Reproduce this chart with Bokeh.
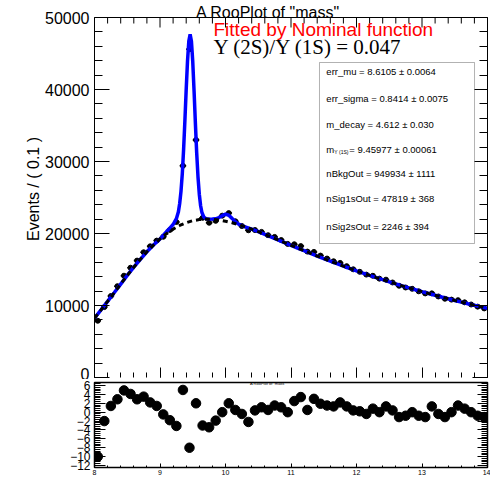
from bokeh.embed import file_html
from bokeh.layouts import column
from bokeh.models import BoxAnnotation, Label, LinearAxis, Range1d, SingleIntervalTicker, Span
from bokeh.plotting import figure
from bokeh.resources import INLINE

SANS = "Liberation Sans"
SERIF = "Liberation Serif"

# ---- binned data: 60 bins of width 0.1 between 8 and 14 ----
bin_centers = [
    8.05, 8.15, 8.25, 8.35, 8.45, 8.55, 8.65, 8.75, 8.85, 8.95,
    9.05, 9.15, 9.25, 9.35, 9.45, 9.55, 9.65, 9.75, 9.85, 9.95,
    10.05, 10.15, 10.25, 10.35, 10.45, 10.55, 10.65, 10.75, 10.85, 10.95,
    11.05, 11.15, 11.25, 11.35, 11.45, 11.55, 11.65, 11.75, 11.85, 11.95,
    12.05, 12.15, 12.25, 12.35, 12.45, 12.55, 12.65, 12.75, 12.85, 12.95,
    13.05, 13.15, 13.25, 13.35, 13.45, 13.55, 13.65, 13.75, 13.85, 13.95,
]
events = [
    7880, 9777, 11313, 12685, 14139, 15246, 16235, 17396, 18221, 19012,
    19540, 20491, 21600, 29400, 45600, 33000, 22171, 21491, 21758, 22480,
    22830, 21700, 21038, 20449, 20482, 20224, 19763, 19524, 19091, 18555,
    18507, 18249, 17489, 17444, 16932, 16521, 16144, 15914, 15465, 15024,
    14679, 14292, 14128, 13732, 13588, 13196, 12742, 12502, 12321, 11969,
    11679, 11685, 11254, 10939, 10818, 10740, 10440, 10137, 9840, 9598,
]
pulls = [
    -10.0, -2.0, 1.4, 2.9, 4.9, 4.1, 2.9, 3.5, 2.2, 1.4,
    -0.5, -1.8, -3.1, 5.0, -8.0, 2.0, -3.0, -3.4, -1.9, 0.0,
    2.0, 0.5, -0.4, -2.2, 0.4, 1.1, 0.5, 1.5, 1.1, 0.0,
    2.5, 3.4, 0.5, 3.0, 1.9, 1.5, 1.3, 2.2, 1.3, 0.4,
    0.2, -0.4, 0.8, 0.0, 1.3, 0.4, -1.1, -0.8, 0.0, -0.8,
    -1.1, 1.3, -0.4, -1.1, 0.0, 1.5, 0.8, 0.0, -0.8, -1.1,
]

# ---- total fit curve (background + Y(1S) + Y(2S)) ----
fit_mass = [
    8.0, 8.1, 8.2, 8.3, 8.4, 8.5, 8.6, 8.7, 8.8, 8.9, 9.0, 9.1, 9.15, 9.2, 9.25,
    9.28, 9.30, 9.32, 9.34, 9.36, 9.38, 9.40, 9.42, 9.44, 9.46, 9.48, 9.50,
    9.52, 9.54, 9.56, 9.58, 9.60, 9.62, 9.64, 9.67, 9.70, 9.75, 9.80, 9.85,
    9.90, 9.95, 10.0, 10.05, 10.1, 10.15, 10.2, 10.25, 10.3, 10.4, 10.5, 10.6,
    10.7, 10.8, 10.9, 11.0, 11.1, 11.2, 11.3, 11.4, 11.5, 11.6, 11.7, 11.8,
    11.9, 12.0, 12.1, 12.2, 12.3, 12.4, 12.5, 12.6, 12.7, 12.8, 12.9, 13.0,
    13.1, 13.2, 13.3, 13.4, 13.5, 13.6, 13.7, 13.8, 13.9, 14.0,
]
fit_total = [
    8251, 9385, 10568, 11762, 12964, 14173, 15324, 16419, 17461, 18392, 19246,
    20270, 20750, 21250, 22060,
    22970, 24130, 25820, 28250, 31620, 35655, 40010, 43940, 46725, 47670,
    46685, 43858, 39820, 35370, 31240, 27880, 25453, 23856, 22913, 22270,
    22060, 21995, 22005, 22040, 22210, 22480, 22680, 22530, 22100, 21627,
    21307, 21096, 20933, 20599, 20250, 19885, 19498, 19129, 18747, 18362,
    17983, 17607, 17234, 16868, 16509, 16155, 15809, 15470, 15138, 14813,
    14496, 14185, 13881, 13583, 13292, 13007, 12728, 12455, 12188, 11926,
    11670, 11420, 11175, 10935, 10701, 10471, 10247, 10027, 9812, 9601,
]

# ---- background component ----
bkg_mass = [
    8.0, 8.1, 8.2, 8.3, 8.4, 8.5, 8.6, 8.7, 8.8, 8.9,
    9.0, 9.1, 9.2, 9.3, 9.4, 9.5, 9.6, 9.7, 9.8, 9.9,
    10.0, 10.1, 10.2, 10.3, 10.4, 10.5, 10.6, 10.7, 10.8, 10.9,
    11.0, 11.1, 11.2, 11.3, 11.4, 11.5, 11.6, 11.7, 11.8, 11.9,
    12.0, 12.1, 12.2, 12.3, 12.4, 12.5, 12.6, 12.7, 12.8, 12.9,
    13.0, 13.1, 13.2, 13.3, 13.4, 13.5, 13.6, 13.7, 13.8, 13.9, 14.0,
]
bkg_only = [
    8251, 9385, 10568, 11762, 12964, 14173, 15324, 16419, 17461, 18392,
    19246, 19972, 20604, 21120, 21500, 21778, 21933, 22000, 21982, 21884,
    21711, 21492, 21227, 20933, 20599, 20250, 19885, 19498, 19129, 18747,
    18362, 17983, 17607, 17234, 16868, 16509, 16155, 15809, 15470, 15138,
    14813, 14496, 14185, 13881, 13583, 13292, 13007, 12728, 12455, 12188,
    11926, 11670, 11420, 11175, 10935, 10701, 10471, 10247, 10027, 9812, 9601,
]

# ---- fit parameter box ----
param_lines = [
    "err_mu = 8.6105 \u00b1 0.0064",
    "err_sigma = 0.8414 \u00b1 0.0075",
    "m_decay = 4.612 \u00b1 0.030",
    None,  # m_{Y(1S)} row, drawn with a subscript
    "nBkgOut = 949934 \u00b1 1111",
    "nSig1sOut = 47819 \u00b1 368",
    "nSig2sOut = 2246 \u00b1 394",
]
param_rows_y = [42500, 38750, 35140, 31670, 28330, 24860, 20970]

# tick positions along the top edge of the upper frame
top_major = [8, 9, 10, 11, 12, 13, 14]
top_minor = [8.2, 8.4, 8.6, 8.8, 9.2, 9.4, 9.6, 9.8, 10.2, 10.4, 10.6, 10.8,
             11.2, 11.4, 11.6, 11.8, 12.2, 12.4, 12.6, 12.8, 13.2, 13.4, 13.6, 13.8]

Y_MAX = 50000
FRAME_PX = 377          # upper frame height in pixels (canvas top to y = 0)
TOP_GAP_PX = 17         # space kept above the y = 50000 line
Y_TOP = Y_MAX * FRAME_PX / (FRAME_PX - TOP_GAP_PX)
PX = Y_TOP / FRAME_PX   # data units per pixel in the upper frame


def inward_axis(ax, major, minor, label_size="0px", standoff=0):
    ax.major_tick_in = major
    ax.major_tick_out = 0
    ax.minor_tick_in = minor
    ax.minor_tick_out = 0
    ax.major_tick_line_color = "black"
    ax.minor_tick_line_color = "black"
    ax.axis_line_color = "black"
    ax.major_label_text_font = SANS
    ax.major_label_text_font_size = label_size
    ax.major_label_standoff = standoff
    ax.major_label_text_color = "black"


# ================= upper pad =================
p1 = figure(
    width=490, height=379,
    x_range=Range1d(8, 14), y_range=Range1d(0, Y_TOP),
    output_backend="svg", toolbar_location=None, title_location=None,
    min_border_left=94, min_border_right=3, min_border_top=0, min_border_bottom=2,
)
p1.grid.visible = False
p1.outline_line_color = None
p1.background_fill_color = "white"
p1.border_fill_color = "white"

ya = p1.yaxis[0]
ya.ticker = SingleIntervalTicker(interval=10000, num_minor_ticks=5)
ya.bounds = (0, Y_MAX)
inward_axis(ya, 15, 8, "16px", 5)
ya.axis_label = "Events / ( 0.1 )"
ya.axis_label_text_font = SANS
ya.axis_label_text_font_size = "16px"
ya.axis_label_text_font_style = "normal"
ya.axis_label_text_color = "black"
ya.axis_label_standoff = 0

xa = p1.xaxis[0]
xa.ticker = SingleIntervalTicker(interval=1, num_minor_ticks=5)
inward_axis(xa, 10, 5)
xa.axis_line_color = None

right_ax = LinearAxis(ticker=SingleIntervalTicker(interval=10000, num_minor_ticks=5),
                      bounds=(0, Y_MAX))
inward_axis(right_ax, 15, 8)
p1.add_layout(right_ax, "right")

# top edge of the frame with its inward ticks
p1.add_layout(Span(location=Y_MAX, dimension="width", line_color="black", line_width=1))
p1.segment(x0=top_major, y0=[Y_MAX] * len(top_major), x1=top_major,
           y1=[Y_MAX - 10 * PX] * len(top_major), line_color="black", line_width=1)
p1.segment(x0=top_minor, y0=[Y_MAX] * len(top_minor), x1=top_minor,
           y1=[Y_MAX - 6 * PX] * len(top_minor), line_color="black", line_width=1)

# data points with bin-width error bars
p1.segment(x0=[m - 0.05 for m in bin_centers], y0=events,
           x1=[m + 0.05 for m in bin_centers], y1=events,
           line_color="black", line_width=1.5)
p1.scatter(bin_centers, events, size=5, color="black")

# fit curves
p1.line(fit_mass, fit_total, line_color="blue", line_width=3.5)
p1.line(bkg_mass, bkg_only, line_color="black", line_width=3, line_dash="5 4")

p1.add_layout(Label(x=10.649, y=Y_TOP - 12 * PX, text='A RooPlot of "mass"', text_align="center",
                    text_baseline="middle", text_font=SANS, text_font_size="16px",
                    text_color="black"))
p1.add_layout(Label(x=9.817, y=48400, text="Fitted by Nominal function", text_align="left",
                    text_baseline="middle", text_font=SANS, text_font_size="19px",
                    text_color="red"))
p1.add_layout(Label(x=9.817, y=45970, text="\u03a5 (2S)/\u03a5 (1S) = 0.047", text_align="left",
                    text_baseline="middle", text_font=SERIF, text_font_size="21px",
                    text_color="black"))

p1.add_layout(BoxAnnotation(left=11.435, right=13.802, bottom=18611, top=43750,
                            fill_color="white", fill_alpha=1.0,
                            line_color="black", line_width=1))

for txt, yv in zip(param_lines, param_rows_y):
    if txt is not None:
        p1.add_layout(Label(x=11.54, y=yv, text=txt, text_baseline="middle",
                            text_font=SANS, text_font_size="9.5px", text_color="black"))
    else:
        p1.add_layout(Label(x=11.54, y=yv, text="m", text_baseline="middle",
                            text_font=SANS, text_font_size="9.5px", text_color="black"))
        p1.add_layout(Label(x=11.54, y=yv, x_offset=8, y_offset=-3, text="\u03a5 (1S)",
                            text_baseline="middle", text_font=SANS, text_font_size="5px",
                            text_color="black"))
        p1.add_layout(Label(x=11.54, y=yv, x_offset=23, text="= 9.45977 \u00b1 0.00061",
                            text_baseline="middle", text_font=SANS, text_font_size="9.5px",
                            text_color="black"))

# ================= lower pad (pulls) =================
p2 = figure(
    width=490, height=103,
    x_range=Range1d(8, 14), y_range=Range1d(-12.45, 6.68),
    output_backend="svg", toolbar_location=None, title_location=None,
    min_border_left=94, min_border_right=3, min_border_top=3, min_border_bottom=15,
)
p2.grid.visible = False
p2.outline_line_color = "black"
p2.outline_line_width = 1.5
p2.background_fill_color = "white"
p2.border_fill_color = "white"

ya2 = p2.yaxis[0]
ya2.ticker = SingleIntervalTicker(interval=2, num_minor_ticks=5)
inward_axis(ya2, 11, 6, "12px", 4)

xa2 = p2.xaxis[0]
xa2.ticker = SingleIntervalTicker(interval=1, num_minor_ticks=5)
inward_axis(xa2, 4, 2, "7px", 2)

right2 = LinearAxis(ticker=SingleIntervalTicker(interval=2, num_minor_ticks=5))
inward_axis(right2, 10, 6)
p2.add_layout(right2, "right")

p2.scatter(bin_centers, pulls, size=9.5, color="black")

p2.add_layout(Label(x=10.649, y=6.4, text='A RooPlot of "mass"', text_align="center",
                    text_baseline="middle", text_font=SANS, text_font_size="4px",
                    text_color="black"))
p2.add_layout(Label(x=13.955, y=-15.15, text="mass", text_align="right",
                    text_baseline="alphabetic", text_font=SANS, text_font_size="11px",
                    text_color="black"))

layout = column(p1, p2, spacing=0)
open("out.html", "w").write(file_html(layout, INLINE))
